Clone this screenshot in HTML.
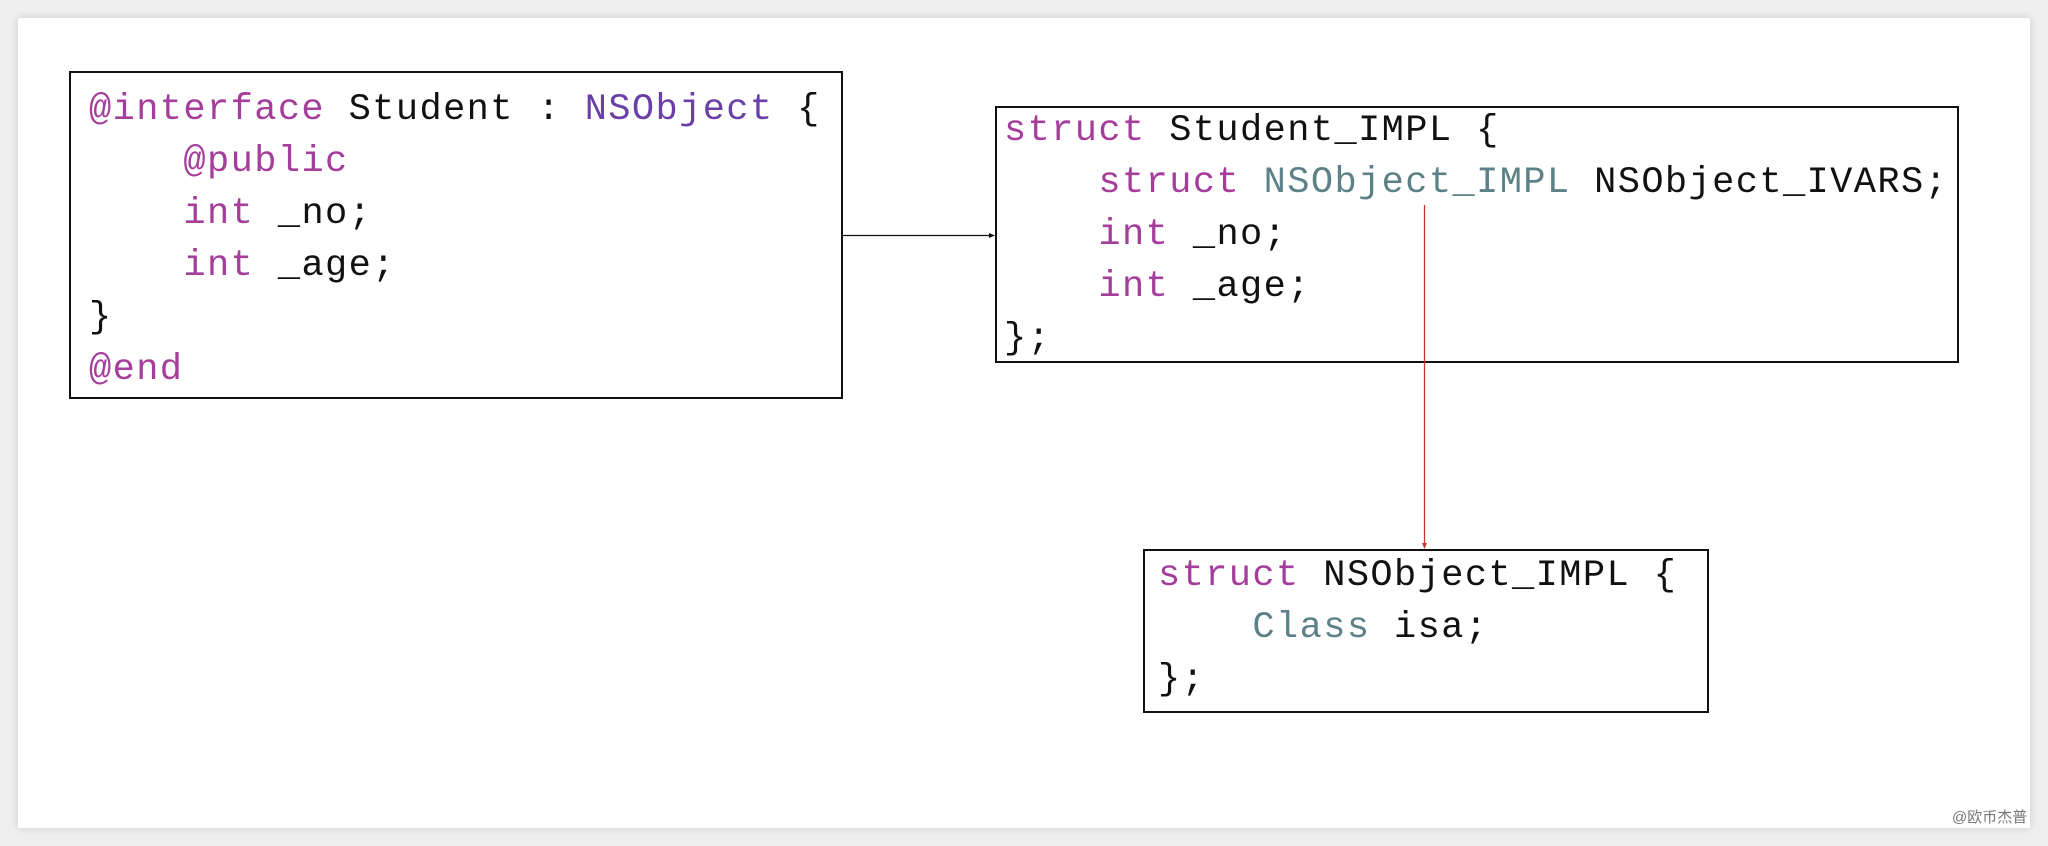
<!DOCTYPE html>
<html><head><meta charset="utf-8"><style>
body{margin:0;width:2048px;height:846px;background:#efefef;position:relative;overflow:hidden;font-family:"Liberation Mono",monospace;}
.card{position:absolute;left:18px;top:18px;width:2012px;height:810px;background:#fff;box-shadow:0 0 8px rgba(0,0,0,0.15);}
.box{position:absolute;border:2px solid #111;background:#fff;box-sizing:border-box;}
pre{position:absolute;margin:0;font-family:"Liberation Mono",monospace;font-size:37px;letter-spacing:1.4px;color:#111;line-height:52px;}
.k{color:#a53d9b}.p{color:#6a3fa8}.t{color:#5c8287}
.wm{position:absolute;left:1952px;top:806px;font-family:"Liberation Sans","Noto Sans CJK SC",sans-serif;font-size:15px;color:#777;}
</style></head><body>
<div class="card"></div>
<div class="box" style="left:69px;top:71px;width:774px;height:328px"></div>
<pre style="left:89px;top:84px"><span class="k">@interface</span> Student : <span class="p">NSObject</span> {
    <span class="k">@public</span>
    <span class="k">int</span> _no;
    <span class="k">int</span> _age;
}
<span class="k">@end</span></pre>
<div class="box" style="left:995px;top:106px;width:964px;height:257px"></div>
<pre style="left:1004px;top:105px"><span class="k">struct</span> Student_IMPL {
    <span class="k">struct</span> <span class="t">NSObject_IMPL</span> NSObject_IVARS;
    <span class="k">int</span> _no;
    <span class="k">int</span> _age;
};</pre>
<div class="box" style="left:1143px;top:549px;width:566px;height:164px"></div>
<pre style="left:1158px;top:550px"><span class="k">struct</span> NSObject_IMPL {
    <span class="t">Class</span> isa;
};</pre>
<svg width="2048" height="846" style="position:absolute;left:0;top:0">
<line x1="843" y1="235.5" x2="992" y2="235.5" stroke="#111" stroke-width="1.3"/>
<polygon points="995,235.5 989,233 989,238" fill="#111"/>
<line x1="1424.5" y1="205" x2="1424.5" y2="546" stroke="#c0392b" stroke-width="1.3"/>
<polygon points="1424.5,549 1422,543 1427,543" fill="#c0392b"/>
</svg>
<div class="wm">@欧币杰普</div>
</body></html>
